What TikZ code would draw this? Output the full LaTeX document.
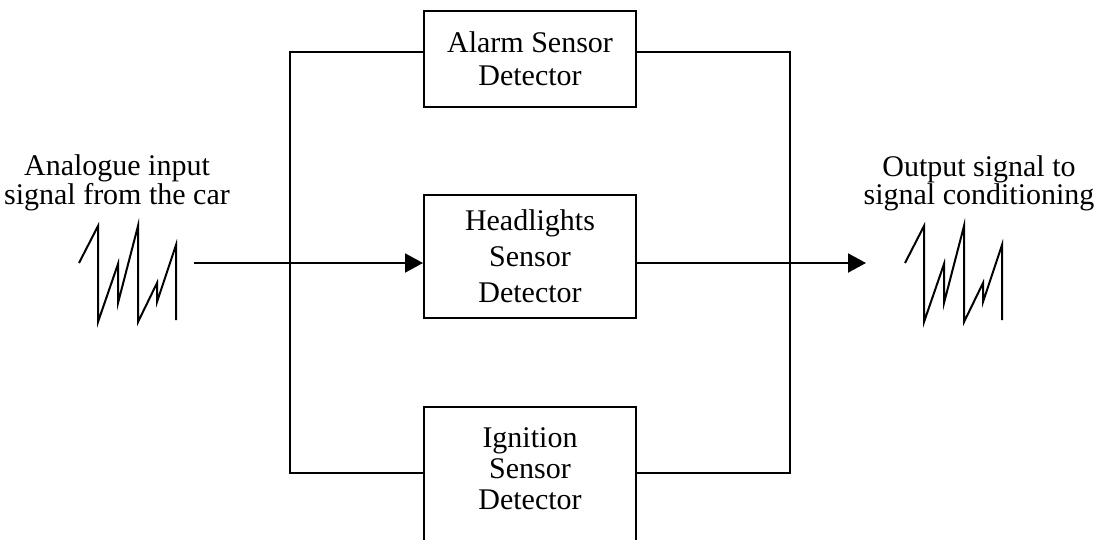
\documentclass[tikz,border=0pt]{standalone}
\usepackage{fontspec}
\setmainfont{Liberation Serif}
\usetikzlibrary{positioning,arrows.meta}

% one burst of the sawtooth signal, drawn from its left end
\newcommand{\sawtooth}[1]{%
  \draw[wave] (#1) -- ++(19,-37) -- ++(0,96) -- ++(20,-58) -- ++(0,39)
    -- ++(20,-77) -- ++(0,96) -- ++(19,-39) -- ++(0,19) -- ++(19,-57) -- ++(0,75);
}

\tikzset{
  sensor/.style={
    draw,
    minimum width=212pt,
    align=center,
    inner sep=0pt,
    font=\fontsize{30}{31}\selectfont
  },
  sidetext/.style={
    align=center,
    inner sep=0pt,
    font=\fontsize{30}{27}\selectfont
  },
  wave/.style={line join=miter},
  feed/.style={-{Triangle[length=18pt,width=19pt]}}
}

\begin{document}
\begin{tikzpicture}[x=1pt,y=-1pt,line width=2pt]
  \useasboundingbox (0,0) rectangle (1101,539);
  \clip (0,0) rectangle (1101,539);

  \node[sensor, minimum height=96pt, font=\fontsize{30}{33}\selectfont] (alarm) at (530,59) {Alarm Sensor\\Detector};
  \node[sensor, minimum height=123pt, font=\fontsize{30}{36}\selectfont] (head) at (530,256.5) {Headlights\\Sensor\\Detector};
  \node[sensor, minimum height=200pt, anchor=north] (ign) at (530,406) {};
  \node[sensor, draw=none, minimum width=0pt, below=21pt of ign.north] (igntext) {Ignition\\Sensor\\Detector};

  \node[sidetext] (input) at (117,183) {Analogue input\\signal from the car};
  \node[sidetext] (output) at (979,183) {Output signal to\\signal conditioning};

  \coordinate (inwave) at (79,263);
  \coordinate (outwave) at (905,263);
  \sawtooth{inwave}
  \sawtooth{outwave}

  % feed lines and the two buses
  \coordinate (infeed) at (194,263);
  \coordinate (outfeed) at (866,263);
  \coordinate (split) at (290,263);
  \coordinate (merge) at (790,263);

  \draw[feed] (infeed) -- (infeed -| head.west);
  \draw[feed] (outfeed -| head.east) -- (outfeed);
  \draw ([yshift=7pt]alarm.west) -| (split) |- ([yshift=-67pt]ign.north west);
  \draw ([yshift=7pt]alarm.east) -| (merge) |- ([yshift=-67pt]ign.north east);
\end{tikzpicture}
\end{document}
